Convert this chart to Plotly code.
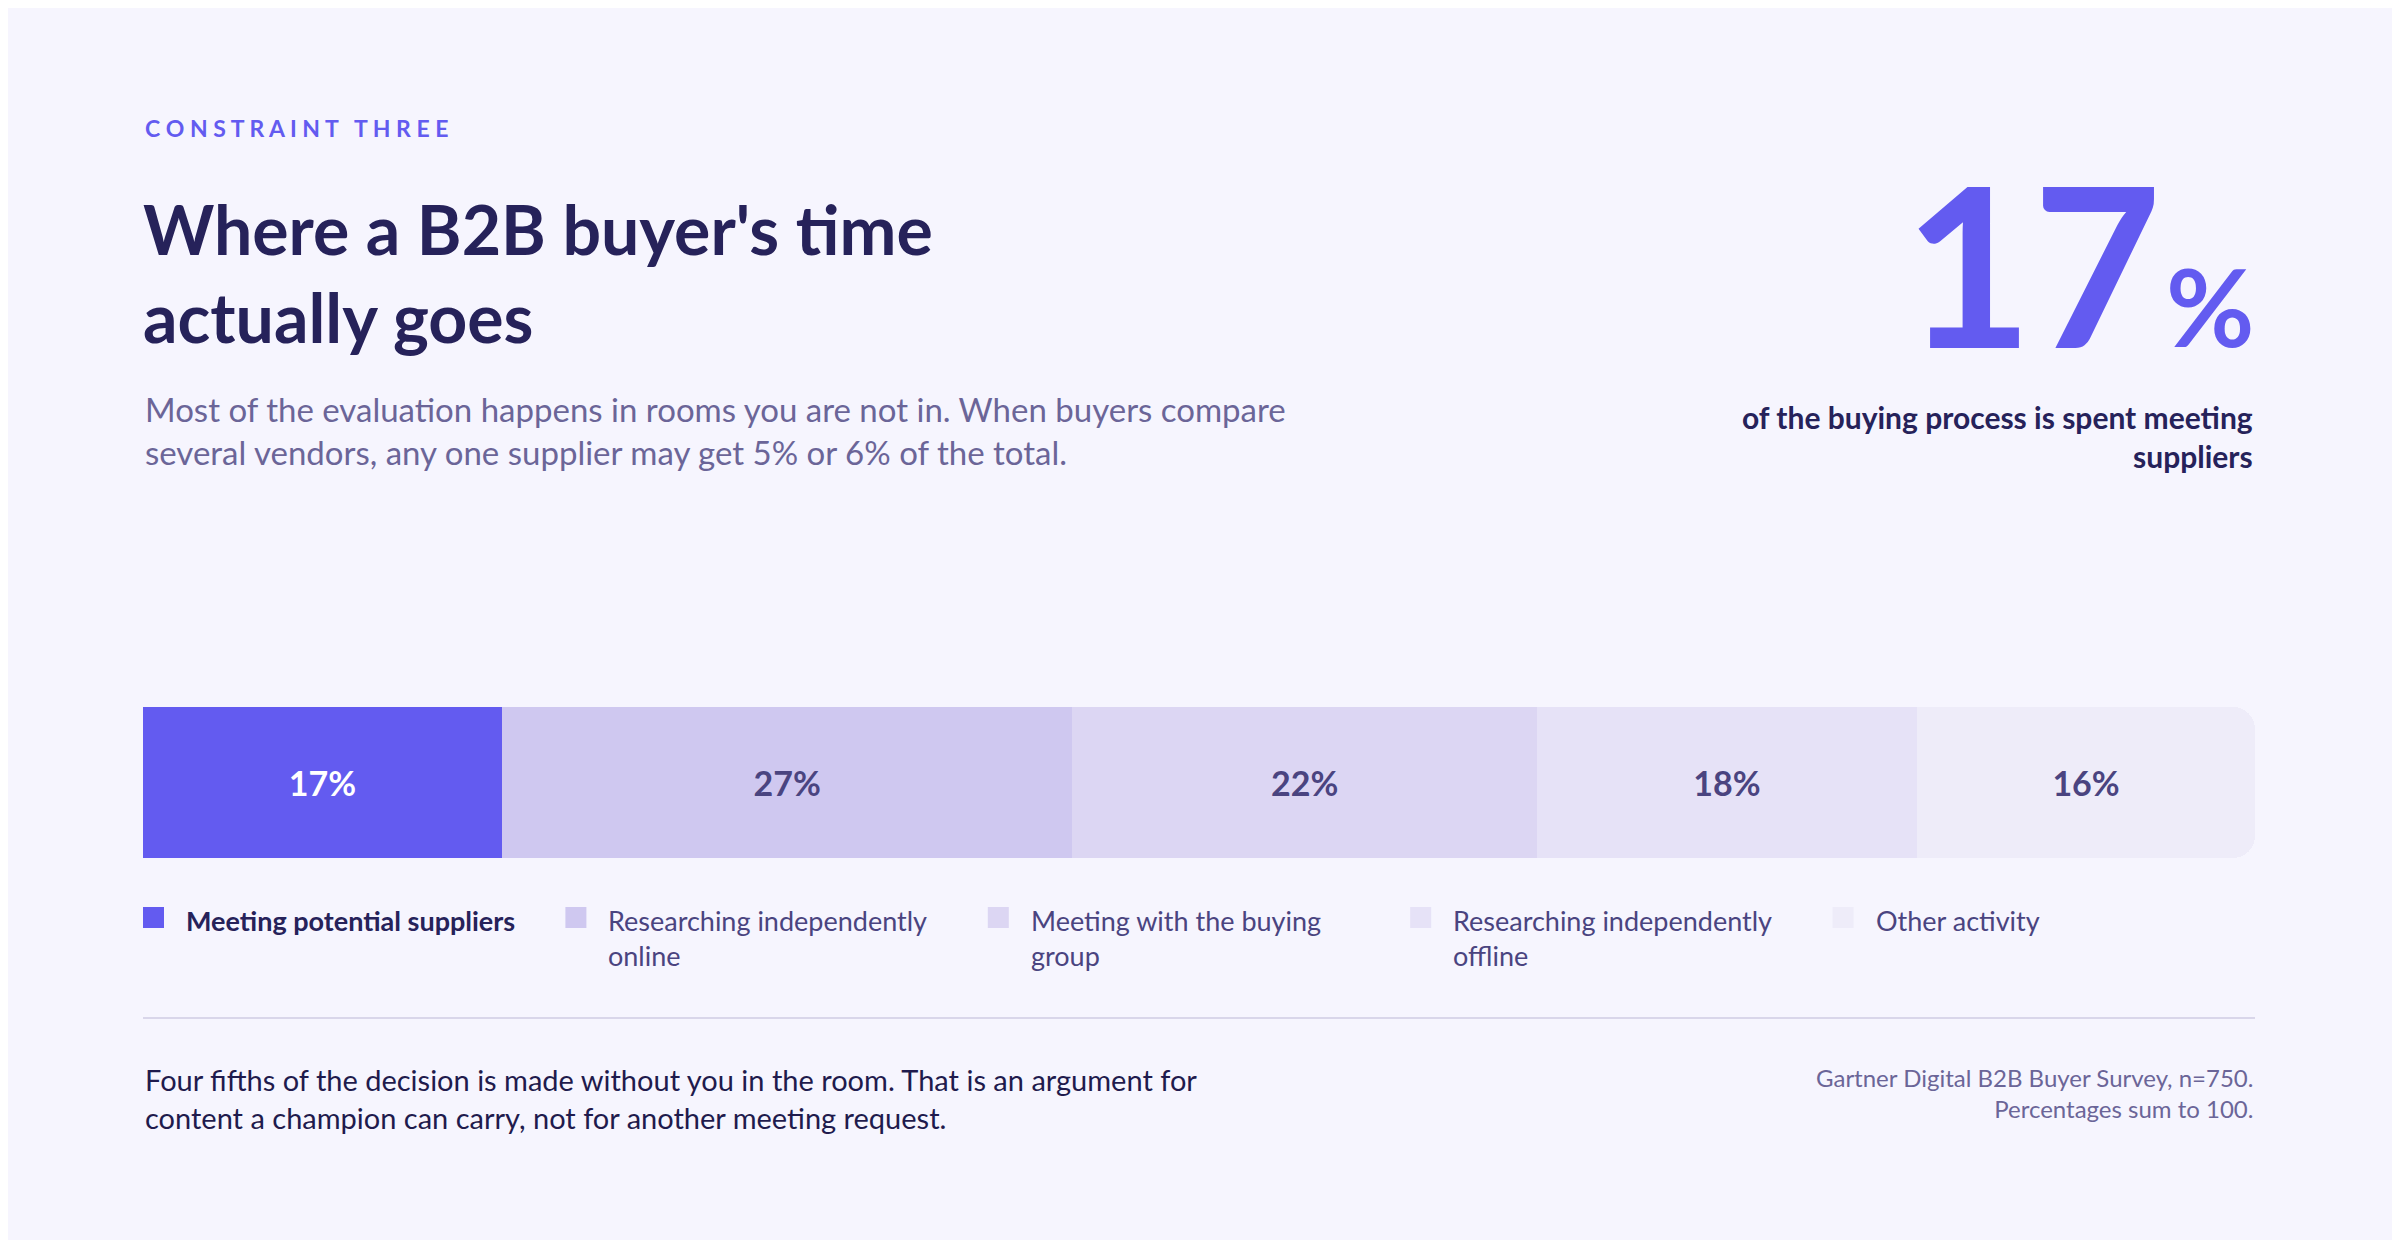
import plotly.graph_objects as go

categories = ["Meeting potential suppliers", "Researching independently<br>online",
              "Meeting with the buying<br>group", "Researching independently<br>offline", "Other activity"]
values = [17, 27, 22, 18, 16]
colors = ["#635bf0", "#cfc8f0", "#dcd6f3", "#e6e2f7", "#eeecf9"]
label_colors = ["#ffffff", "#4a4480", "#4a4480", "#4a4480", "#4a4480"]

W, H = 2400, 1240
DX, DY = -9, -8
BG = "#f6f5fe"
DARK = "#26225a"
MID = "#4a4480"
FONT = "Lato"
x0, x1 = (144 + DX) / W, (2256 + DX) / W

fig = go.Figure()
for i, (c, v) in enumerate(zip(categories, values)):
    fig.add_trace(go.Bar(
        x=[v], y=[0], orientation="h", marker=dict(color=colors[i], line=dict(width=0)),
        text=[f"<b>{v}%</b>"], textposition="inside", insidetextanchor="middle",
        textfont=dict(color=label_colors[i], size=34, family=FONT),
        width=1, showlegend=False, hoverinfo="skip"))

fig.update_layout(
    width=W, height=H, barmode="stack", barcornerradius=22,
    paper_bgcolor=BG, plot_bgcolor=BG, margin=dict(l=0, r=0, t=0, b=0),
    font=dict(family=FONT, color=DARK),
    xaxis=dict(domain=[x0, x1], range=[0, sum(values)], visible=False, fixedrange=True),
    yaxis=dict(domain=[(H - 858 - DY) / H, (H - 707 - DY) / H], range=[-0.5, 0.5], visible=False),
    uniformtext=dict(mode="show", minsize=10),
)

def py(y):
    return 1 - (y + DY) / H

def px(x):
    return (x + DX) / W

def ann(text, x, y, size, color, anchor="left", yanchor="middle", **kw):
    fig.add_annotation(text=text, x=px(x), y=py(y), xref="paper", yref="paper",
                       xanchor=anchor, yanchor=yanchor, showarrow=False,
                       font=dict(size=size, color=color, family=FONT), align=anchor, **kw)

ann("<b>C O N S T R A I N T&nbsp;&nbsp;&nbsp;T H R E E</b>", 144, 128, 23, "#635bf0")
ann("<b>Where a B2B buyer's time<br>actually goes</b>", 142, 272, 68, DARK)
ann("Most of the evaluation happens in rooms you are not in. When buyers compare<br>several vendors, any one supplier may get 5% or 6% of the total.",
    144, 430, 33, "#6b6598")
ann("<b>17</b>", 2165, 262, 222, "#635bf0", anchor="right")
ann("<b>%</b>", 2258, 305, 108, "#635bf0", anchor="right")
ann("<b>of the buying process is spent meeting<br>suppliers</b>", 2256, 436, 30, DARK, anchor="right")

# legend
colw = (2256 - 144) / len(categories)
for i, c in enumerate(categories):
    lx = 144 + i * colw
    fig.add_shape(type="rect", xref="paper", yref="paper",
                  x0=px(lx), x1=px(lx + 21), y0=py(928), y1=py(907),
                  fillcolor=colors[i], line=dict(width=0))
    txt = f"<b>{c}</b>" if i == 0 else c
    ann(txt, lx + 41, 902, 27, DARK if i == 0 else MID, yanchor="top")

fig.add_shape(type="line", xref="paper", yref="paper", x0=x0, x1=x1, y0=py(1018), y1=py(1018),
              line=dict(color="#d9d6ea", width=2))
ann("Four fifths of the decision is made without you in the room. That is an argument for<br>content a champion can carry, not for another meeting request.",
    144, 1098, 29, "#1f1b4d")
ann("Gartner Digital B2B Buyer Survey, n=750.<br>Percentages sum to 100.", 2256, 1093, 24, "#6b6598", anchor="right")

fig.write_html("out.html")
